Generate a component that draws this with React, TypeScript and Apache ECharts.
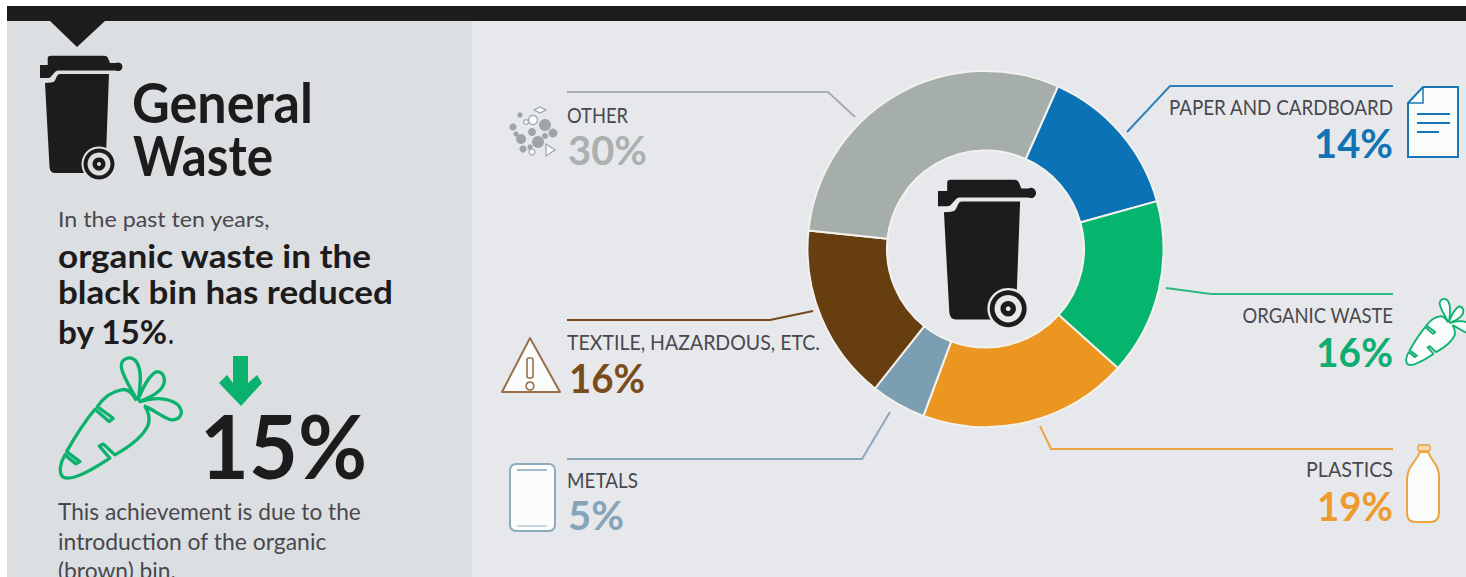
import React, { useEffect, useRef } from "react";
import * as echarts from "echarts";

const categories = ["PAPER AND CARDBOARD", "ORGANIC WASTE", "PLASTICS", "METALS", "TEXTILE, HAZARDOUS, ETC.", "OTHER"];
const shares = [14, 16, 19, 5, 16, 30];
const sliceColors = ["#0a72b5", "#05b46d", "#ea9620", "#7b9eb3", "#673e10", "#a5aea8"];
const valueColors = ["#0f73b4", "#0fae70", "#ee9b2d", "#86a5b9", "#7a4c1c", "#abb1af"];
const lineColors = ["#2f80b8", "#2cb783", "#eba443", "#8ba8bb", "#74491c", "#a9aeac"];

const FONT = "Lato, 'Noto Sans', sans-serif";
const INK = "#1d1b1c";
const GREY = "#48484d";
const GREEN = "#0ab26e";
const LEFT_BG = "#dcdfe2";
const RIGHT_BG = "#e7e8ec";
const WHITE = "#fbfcfc";

const LID =
  "M7.7 2.5 Q8 0.7 11 0.7 L64 0.7 Q67 0.7 68 3 L70 8 L76 8 A4.3 4.3 0 1 1 76 15.5 L18 15.5 Q16 15.5 15 17 L11 21.5 Q10 23 8 23 L0 23 L0 10 L7.7 10 Z";
const BODY =
  "M5 28 L11 27.5 Q14 27.5 15 25.5 L17 21 Q18 19 20 19 L69 19 L66 100 L60 118 L15 118 Q10 118 9.5 112 Z";
const CARROT =
  "M410 182 C395 155 380 145 365 150 C335 155 310 175 292 200 L340 235 L328 245 L285 208 C250 250 220 300 200 335 L240 365 L228 372 L195 345 C180 370 175 400 190 412 C215 425 270 395 330 355 L298 318 L310 312 L345 345 C390 320 430 290 445 255 C450 240 448 220 436 200 " +
  "M410 178 C395 150 370 110 365 85 C360 60 385 45 405 60 C425 80 425 120 415 178 " +
  "C435 130 450 105 470 95 C495 95 500 125 485 145 C465 170 440 175 420 185 " +
  "C470 170 510 175 535 195 C555 220 540 240 515 240 C490 235 465 210 432 198";
const BOTTLE =
  "M1420 452 L1428 452 C1432 462 1440 465 1439 480 L1439 512 C1439 520 1435 522 1430 522 L1416 522 C1410 522 1407 520 1407 512 L1407 480 C1407 466 1416 462 1420 452 Z";

echarts.graphic.registerShape("binLid", echarts.graphic.extendPath(LID, {}));
echarts.graphic.registerShape("binBody", echarts.graphic.extendPath(BODY, {}));
echarts.graphic.registerShape("carrot", echarts.graphic.extendPath(CARROT, {}));
echarts.graphic.registerShape("bottle", echarts.graphic.extendPath(BOTTLE, {}));

const ctx = document.createElement("canvas").getContext("2d") as CanvasRenderingContext2D;

function txt(
  text: string,
  x: number,
  cy: number,
  size: number,
  fill: string,
  weight: string | number,
  width: number,
  align: "left" | "right" = "left"
) {
  ctx.font = `${weight} ${size}px Lato`;
  const measured = ctx.measureText(text).width || width;
  return {
    type: "text",
    x,
    y: cy,
    scaleX: width / measured,
    z: 10,
    style: { text, fill, fontFamily: FONT, fontSize: size, fontWeight: weight, align, verticalAlign: "middle" },
  };
}

function bin(x: number, y: number, s: number, bg: string) {
  return {
    type: "group",
    x,
    y,
    scaleX: s,
    scaleY: s,
    children: [
      { type: "binLid", z: 10, style: { fill: INK } },
      { type: "binBody", z: 10, style: { fill: INK } },
      { type: "circle", z: 11, shape: { cx: 59, cy: 109, r: 17.5 }, style: { fill: bg } },
      { type: "ring", z: 12, shape: { cx: 59, cy: 109, r: 15.5, r0: 11.5 }, style: { fill: INK } },
      { type: "circle", z: 12, shape: { cx: 59, cy: 109, r: 6.5 }, style: { fill: INK } },
      { type: "circle", z: 13, shape: { cx: 59, cy: 109, r: 2 }, style: { fill: bg } },
    ],
  };
}

function carrot(x: number, y: number, s: number, fill: string) {
  return {
    type: "carrot",
    x,
    y,
    scaleX: s,
    scaleY: s,
    z: 10,
    style: { fill, stroke: GREEN, lineWidth: 10, lineJoin: "round", fillRule: "nonzero" },
  };
}

function leader(points: number[][], stroke: string) {
  return { type: "polyline", z: 5, shape: { points }, style: { fill: "none", stroke, lineWidth: 2 } };
}

const gravelSolid = [
  [545, 125, 6], [513, 127, 3.6], [532, 132, 4], [553, 133, 4.4], [521, 139, 5],
  [538, 142, 6], [523, 149, 3.6], [520, 115, 2.6], [516, 134, 2.6], [530, 147, 2.6], [545, 136, 3],
];
const gravelHollow = [[533, 120, 4.5], [532, 152, 3], [526, 122, 2.4]];

function gravel() {
  const c = "#9fa4a5";
  return [
    ...gravelSolid.map(([cx, cy, r]) => ({ type: "circle", z: 10, shape: { cx, cy, r }, style: { fill: c } })),
    ...gravelHollow.map(([cx, cy, r]) => ({
      type: "circle", z: 10, shape: { cx, cy, r }, style: { fill: WHITE, stroke: c, lineWidth: 1.2 },
    })),
    { type: "polygon", z: 10, shape: { points: [[534, 110], [540, 107], [546, 110], [540, 113]] }, style: { fill: WHITE, stroke: c, lineWidth: 1.2 } },
    { type: "polygon", z: 10, shape: { points: [[546, 144], [555, 150], [546, 156]] }, style: { fill: WHITE, stroke: c, lineWidth: 1.2 } },
  ];
}

function buildGraphic() {
  const [paper, organic, plastics, metals, textile, other] = shares;
  const pct = (v: number) => `${v}%`;
  return [
    { type: "rect", z: -2, shape: { x: 0, y: 0, width: 1466, height: 577 }, style: { fill: "#ffffff" } },
    { type: "rect", z: -1, shape: { x: 472, y: 21, width: 994, height: 556 }, style: { fill: RIGHT_BG } },
    { type: "rect", z: -1, shape: { x: 7, y: 21, width: 465, height: 556 }, style: { fill: LEFT_BG } },
    { type: "rect", z: 1, shape: { x: 7, y: 6, width: 1459, height: 15 }, style: { fill: INK } },
    { type: "polygon", z: 1, shape: { points: [[50, 21], [105, 21], [77, 47]] }, style: { fill: INK } },

    bin(40, 55, 1, LEFT_BG),
    bin(938, 179, 1.19, RIGHT_BG),

    txt("General", 132, 101.5, 55, INK, 700, 181),
    txt("Waste", 133, 154.5, 55, INK, 700, 140),
    txt("In the past ten years,", 58, 219, 22, GREY, 400, 212),
    txt("organic waste in the", 58, 255, 33, INK, 700, 314),
    txt("black bin has reduced", 58, 291, 33, INK, 700, 335),
    txt("by 15%", 58, 331, 33, INK, 700, 110),
    txt(".", 168, 331, 33, INK, 400, 6),
    carrot(0, 340, 1 / 3, "none"),
    {
      type: "polygon",
      z: 10,
      shape: { points: [[233, 356], [248, 356], [248, 383], [257, 375], [262, 383], [241, 406], [219, 383], [227, 375], [233, 383]] },
      style: { fill: GREEN },
    },
    txt("15%", 200, 445, 88, INK, 700, 167),
    txt("This achievement is due to the", 58, 511, 23, GREY, 400, 303),
    txt("introduction of the organic", 58, 541, 23, GREY, 400, 269),
    txt("(brown) bin.", 58, 570, 23, GREY, 400, 118),

    leader([[567, 92], [828, 92], [855, 117]], lineColors[5]),
    leader([[1393, 86], [1170, 86], [1127, 132]], lineColors[0]),
    leader([[1166, 288], [1211, 294], [1393, 294]], lineColors[1]),
    leader([[1393, 449], [1051, 449], [1040, 426]], lineColors[2]),
    leader([[567, 459], [862, 459], [890, 412]], lineColors[3]),
    leader([[567, 320], [770, 320], [813, 311]], lineColors[4]),

    txt(categories[5], 567, 114, 22, GREY, 400, 61),
    txt(pct(other), 568, 150, 40, valueColors[5], 700, 79),
    txt(categories[4], 567, 341, 22, GREY, 400, 253),
    txt(pct(textile), 569, 377, 40, valueColors[4], 700, 76),
    txt(categories[3], 567, 479, 22, GREY, 400, 71),
    txt(pct(metals), 568, 515, 40, valueColors[3], 700, 56),
    txt(categories[0], 1393, 106, 22, GREY, 400, 225, "right"),
    txt(pct(paper), 1393, 143, 40, valueColors[0], 700, 79, "right"),
    txt(categories[1], 1393, 314, 22, GREY, 400, 151, "right"),
    txt(pct(organic), 1393, 351, 40, valueColors[1], 700, 77, "right"),
    txt(categories[2], 1393, 468.5, 22, GREY, 400, 87, "right"),
    txt(pct(plastics), 1393, 505, 40, valueColors[2], 700, 76, "right"),

    // paper sheet
    { type: "polygon", z: 10, shape: { points: [[1423, 87], [1458, 87], [1458, 157], [1408, 157], [1408, 103]] }, style: { fill: WHITE, stroke: "#1a76b4", lineWidth: 2 } },
    { type: "polyline", z: 10, shape: { points: [[1423, 87], [1423, 103], [1408, 103]] }, style: { fill: "none", stroke: "#1a76b4", lineWidth: 1.5 } },
    { type: "line", z: 10, shape: { x1: 1417, y1: 114, x2: 1450, y2: 114 }, style: { stroke: "#1a76b4", lineWidth: 2 } },
    { type: "line", z: 10, shape: { x1: 1417, y1: 123, x2: 1450, y2: 123 }, style: { stroke: "#1a76b4", lineWidth: 2 } },
    { type: "line", z: 10, shape: { x1: 1417, y1: 132, x2: 1439, y2: 132 }, style: { stroke: "#1a76b4", lineWidth: 2 } },

    carrot(1373, 289, 0.183, WHITE),

    // bottle
    { type: "bottle", z: 10, style: { fill: WHITE, stroke: "#eea43e", lineWidth: 2 } },
    { type: "rect", z: 10, shape: { x: 1418, y: 445, width: 12, height: 6, r: 1.5 }, style: { fill: "#f6dcae", stroke: "#eea43e", lineWidth: 1.5 } },

    // warning
    { type: "polygon", z: 10, shape: { points: [[530, 338], [560, 392], [502, 392]] }, style: { fill: WHITE, stroke: "#97704a", lineWidth: 2, lineJoin: "round" } },
    { type: "rect", z: 10, shape: { x: 527, y: 358, width: 6, height: 20, r: 2 }, style: { fill: WHITE, stroke: "#97704a", lineWidth: 1.6 } },
    { type: "circle", z: 10, shape: { cx: 530, cy: 386, r: 4 }, style: { fill: WHITE, stroke: "#97704a", lineWidth: 1.6 } },

    // can
    { type: "rect", z: 10, shape: { x: 510, y: 464, width: 45, height: 67, r: 6 }, style: { fill: WHITE, stroke: "#8eabbc", lineWidth: 2 } },
    { type: "line", z: 10, shape: { x1: 517, y1: 470, x2: 547, y2: 470 }, style: { stroke: "#8eabbc", lineWidth: 1.6 } },
    { type: "line", z: 10, shape: { x1: 517, y1: 526, x2: 547, y2: 526 }, style: { stroke: "#b4c6d1", lineWidth: 1.4 } },

    ...gravel(),
  ];
}

export default function App() {
  const ref = useRef<HTMLDivElement>(null);
  useEffect(() => {
    document.body.style.margin = "0";
    document.body.style.overflow = "hidden";
    const chart = echarts.init(ref.current as HTMLDivElement, null, { renderer: "svg" });
    chart.setOption({
      animation: false,
      backgroundColor: RIGHT_BG,
      series: [
        {
          type: "pie",
          z: 3,
          center: [985.5, 249],
          radius: [98.5, 178],
          startAngle: 66,
          clockwise: true,
          silent: true,
          label: { show: false },
          labelLine: { show: false },
          itemStyle: { borderColor: "#f3f2ee", borderWidth: 2 },
          data: categories.map((name, i) => ({
            name,
            value: shares[i],
            itemStyle: { color: sliceColors[i] },
          })),
        },
      ],
      graphic: buildGraphic(),
    });
    return () => chart.dispose();
  }, []);
  return <div ref={ref} style={{ position: "absolute", left: 0, top: 0, width: 1466, height: 577, overflow: "hidden" }} />;
}
